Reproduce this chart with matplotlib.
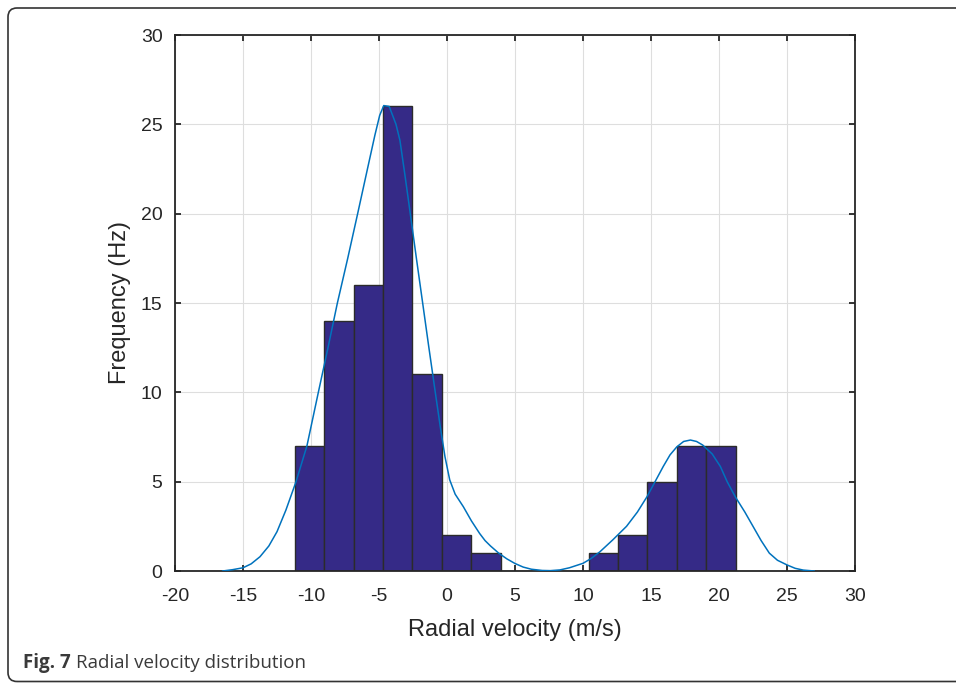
"""
Radial velocity histogram with a fitted density curve (MATLAB-like look).
"""

import numpy as np
import matplotlib
matplotlib.use('Agg')
import matplotlib.pyplot as plt
from matplotlib.patches import FancyBboxPatch
from matplotlib.transforms import IdentityTransform

# histogram bins (m/s) and counts
bin_edges = [-11.18, -9.02, -6.86, -4.70, -2.54, -0.38, 1.78, 3.94,
             6.10, 8.26, 10.42, 12.58, 14.74, 16.90, 19.06, 21.22]
counts = [7, 14, 16, 26, 11, 2, 1, 0, 0, 0, 1, 2, 5, 7, 7]

# fitted curve, points
curve_x = [-16.5, -15.8, -15.0, -14.4, -13.75, -13.1, -12.5, -11.85, -11.1,
           -10.3, -9.46, -8.75, -8.06, -7.3, -6.57, -5.85, -5.3, -4.95,
           -4.65, -4.25, -3.75, -3.46, -3.1, -2.7, -2.25, -1.79, -1.35,
           -0.88, -0.5, -0.15, 0.2, 0.6, 1.2, 1.8, 2.4, 2.8, 3.2,
           3.8, 4.4, 5.0, 5.6, 6.2, 7.0, 7.6,
           8.3, 9.0, 10.0, 10.6, 11.25, 12.2, 13.2, 14.0, 14.7, 15.3, 15.9,
           16.4, 16.9, 17.4, 17.9, 18.35, 18.8, 19.5, 20.1, 20.6, 21.2,
           21.9, 22.5, 23.1, 23.7, 24.3, 25.0, 25.6, 26.2, 27.0]
curve_y = [0.0, 0.07, 0.18, 0.4, 0.8, 1.4, 2.2, 3.4, 5.0,
           7.0, 10.0, 12.5, 15.0, 17.5, 20.0, 22.5, 24.4, 25.5,
           26.05, 26.0, 25.0, 24.1, 22.2, 20.0, 17.5, 15.0, 12.6,
           10.1, 8.1, 6.4, 5.1, 4.3, 3.6, 2.8, 2.1, 1.7, 1.4,
           1.0, 0.68, 0.42, 0.22, 0.1, 0.03, 0.02,
           0.06, 0.18, 0.43, 0.7, 1.08, 1.75, 2.5, 3.3, 4.15, 5.0, 5.85,
           6.5, 6.95, 7.25, 7.33, 7.25, 7.05, 6.55, 5.85, 5.0, 4.15,
           3.3, 2.5, 1.7, 1.0, 0.6, 0.34, 0.15, 0.05, 0.0]

x_ticks = [-20, -15, -10, -5, 0, 5, 10, 15, 20, 25, 30]
y_ticks = [0, 5, 10, 15, 20, 25, 30]

plt.rcParams['font.family'] = ['Liberation Sans', 'DejaVu Sans']
plt.rcParams['axes.unicode_minus'] = False

fig = plt.figure(figsize=(9.56, 6.83), dpi=100)
ax = fig.add_axes([175 / 956, 1 - 571 / 683, 680 / 956, 536 / 683])

edges = np.array(bin_edges)
ax.bar(edges[:-1], counts, width=np.diff(edges), align='edge',
       color='#352a87', edgecolor='#2b2b2b', linewidth=1.0, zorder=2)
ax.plot(curve_x, curve_y, color='#0072bd', linewidth=1.1, zorder=3)

ax.set_xlim(-20, 30)
ax.set_ylim(0, 30)
ax.set_xticks(x_ticks)
ax.set_yticks(y_ticks)
ax.grid(True, color='#dedede', linewidth=0.8, zorder=0)
ax.set_axisbelow(True)

for spine in ax.spines.values():
    spine.set_color('#262626')
    spine.set_linewidth(1.3)
ax.tick_params(direction='in', length=4, width=1.3, color='#262626',
               top=True, right=True, labelsize=14, labelcolor='#262626')
ax.tick_params(axis='x', pad=12)
ax.tick_params(axis='y', pad=9)

ax.set_xlabel('Radial velocity (m/s)', fontsize=17, color='#262626',
              labelpad=10)
ax.set_ylabel('Frequency (Hz)', fontsize=17, color='#262626',
              labelpad=7)

# rounded frame around the figure, cropped on the right
frame = FancyBboxPatch((8, 1.5), 1000, 673.5,
                       boxstyle='round,pad=0,rounding_size=9',
                       transform=IdentityTransform(), fill=False,
                       edgecolor='#333333', linewidth=1.2, clip_on=False)
fig.add_artist(frame)

# caption: bold figure number followed by the title
cap_font = ['Open Sans', 'DejaVu Sans']
cap_y = 1 - 663 / 683
t1 = fig.text(23 / 956, cap_y, 'Fig. 7', fontsize=13.5, fontweight='bold',
              family=cap_font, color='#3a3a3a', va='center')
renderer = fig.canvas.get_renderer()
bb = t1.get_window_extent(renderer)
fig.text((bb.x1 + 5) / 956, cap_y, 'Radial velocity distribution',
         fontsize=13.5, family=cap_font, color='#3a3a3a', va='center')

fig.savefig('out.png', dpi=100)
